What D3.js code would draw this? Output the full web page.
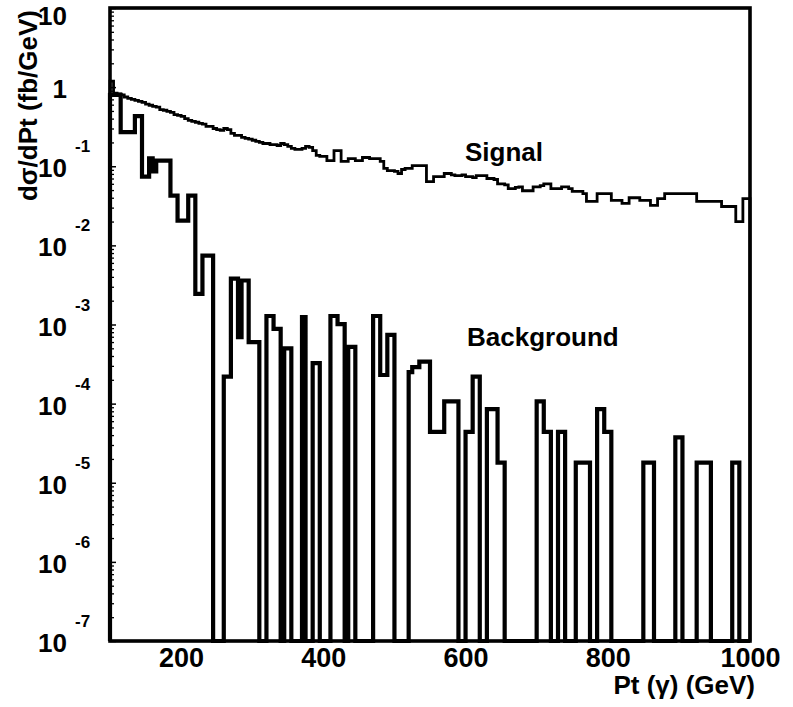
<!DOCTYPE html>
<html>
<head>
<meta charset="utf-8">
<script src="https://cdn.jsdelivr.net/npm/d3@7"></script>
<style>
  html, body { margin: 0; padding: 0; background: #fff; }
  svg { display: block; }
  text { font-family: "Liberation Sans", Arial, Helvetica, sans-serif; font-weight: bold; fill: #000; }
</style>
</head>
<body>
<svg id="chart" width="793" height="707"></svg>
<script>
// Photon transverse momentum spectrum, 5 GeV bins from 100 to 1000 GeV
const ptRange = [100, 1000];
const binWidth = 5;

// dσ/dPt (fb/GeV) per bin, signal
const signal = [
  1.19, 0.84, 0.82, 0.80, 0.75, 0.72, 0.70, 0.68, 0.66, 0.64,
  0.61, 0.59, 0.57, 0.56, 0.52, 0.51, 0.495, 0.48, 0.45, 0.44,
  0.427, 0.40, 0.38, 0.37, 0.36, 0.348, 0.34, 0.319, 0.319, 0.30,
  0.29, 0.284, 0.30, 0.29, 0.26, 0.245, 0.245, 0.232, 0.225, 0.22,
  0.213, 0.206, 0.20, 0.194, 0.194, 0.188, 0.188, 0.183, 0.194, 0.188,
  0.178, 0.168, 0.163, 0.163, 0.168, 0.178, 0.173, 0.158, 0.137, 0.133,
  0.133, 0.118, 0.118, 0.158, 0.158, 0.115, 0.115, 0.125, 0.125, 0.118,
  0.118, 0.129, 0.129, 0.125, 0.125, 0.125, 0.115, 0.094, 0.088, 0.088,
  0.086, 0.081, 0.091, 0.094, 0.094, 0.102, 0.102, 0.102, 0.102, 0.064,
  0.064, 0.074, 0.074, 0.074, 0.081, 0.081, 0.078, 0.076, 0.076, 0.078,
  0.074, 0.074, 0.072, 0.076, 0.076, 0.076, 0.070, 0.070, 0.068, 0.060,
  0.060, 0.058, 0.052, 0.052, 0.054, 0.055, 0.049, 0.049, 0.049, 0.055,
  0.055, 0.057, 0.060, 0.060, 0.052, 0.052, 0.052, 0.055, 0.055, 0.052,
  0.048, 0.048, 0.048, 0.045, 0.036, 0.036, 0.036, 0.045, 0.045, 0.045,
  0.045, 0.037, 0.037, 0.037, 0.034, 0.034, 0.040, 0.040, 0.040, 0.037,
  0.037, 0.037, 0.032, 0.032, 0.039, 0.039, 0.045, 0.045, 0.045, 0.045,
  0.045, 0.045, 0.045, 0.045, 0.045, 0.036, 0.036, 0.036, 0.036, 0.036,
  0.036, 0.036, 0.031, 0.031, 0.031, 0.031, 0.020, 0.020, 0.039, 0.039
];

// dσ/dPt (fb/GeV) per bin, background (0 = empty bin)
const background = [
  0.8, 0.8, 0.8, 0.27, 0.27, 0.27, 0.27, 0.43, 0.43, 0.074,
  0.074, 0.126, 0.086, 0.118, 0.118, 0.118, 0.118, 0.0425, 0.0425, 0.0205,
  0.0205, 0.0205, 0.0425, 0.0425, 0.00244, 0.00244, 0.0074, 0.0074, 0.0074, 0,
  0, 0, 2.2e-4, 2.2e-4, 0.0038, 0.0038, 6.9e-4, 0.0036, 0.0036, 6e-4,
  6e-4, 6e-4, 0, 0, 0.00128, 0.00128, 8.8e-4, 8.8e-4, 0, 5e-4,
  5e-4, 0, 0, 0, 0.00124, 0, 0, 3.25e-4, 3.25e-4, 0,
  0, 0, 0.00128, 0.00128, 0.00101, 0.00101, 0, 5.2e-4, 5.2e-4, 0,
  0, 0, 0, 0, 0.00128, 0.00128, 2.3e-4, 2.3e-4, 7.4e-4, 7.4e-4,
  0, 0, 0, 0, 2.5e-4, 2.9e-4, 2.9e-4, 3.4e-4, 3.4e-4, 3.4e-4,
  4.4e-5, 4.4e-5, 4.4e-5, 4.4e-5, 1.07e-4, 1.07e-4, 1.07e-4, 1.07e-4, 0, 0,
  4.4e-5, 4.4e-5, 2.2e-4, 2.2e-4, 0, 0, 8.5e-5, 8.5e-5, 8.5e-5, 1.8e-5,
  1.8e-5, 0, 0, 0, 0, 0, 0, 0, 0, 0,
  1.07e-4, 1.07e-4, 4.4e-5, 4.4e-5, 0, 0, 4.4e-5, 4.4e-5, 0, 0,
  0, 1.8e-5, 1.8e-5, 1.8e-5, 1.8e-5, 0, 0, 8.5e-5, 8.5e-5, 4.4e-5,
  4.4e-5, 0, 0, 0, 0, 0, 0, 0, 0, 0,
  1.8e-5, 1.8e-5, 1.8e-5, 0, 0, 0, 0, 0, 0, 3.75e-5,
  3.75e-5, 0, 0, 0, 0, 1.8e-5, 1.8e-5, 1.8e-5, 1.8e-5, 0,
  0, 0, 0, 0, 0, 1.8e-5, 1.8e-5, 0, 0, 0
];

const xTicks = [200, 400, 600, 800, 1000];
const yRange = [1e-7, 10];
const yTicks = [1e1, 1e0, 1e-1, 1e-2, 1e-3, 1e-4, 1e-5, 1e-6, 1e-7];
const yTickBase = ["10", "1", "10", "10", "10", "10", "10", "10", "10"];
const yTickExp = ["", "", "-1", "-2", "-3", "-4", "-5", "-6", "-7"];

const plot = { left: 110, right: 750, top: 8, bottom: 641 };

const svg = d3.select("#chart");

const x = d3.scaleLinear().domain(ptRange).range([plot.left, plot.right]);
const y = d3.scaleLog().domain(yRange).range([plot.bottom, plot.top]).clamp(true);

const edges = d3.range(ptRange[0], ptRange[1] + binWidth / 2, binWidth);

// Step outline of a histogram, starting and ending on the baseline
function outline(values) {
  const pts = [[edges[0], yRange[0]]];
  values.forEach((v, i) => {
    const val = v > 0 ? v : yRange[0];
    pts.push([edges[i], val]);
    pts.push([edges[i + 1], val]);
  });
  pts.push([edges[edges.length - 1], yRange[0]]);
  return pts;
}

const line = d3.line().x(d => x(d[0])).y(d => y(d[1]));

svg.append("path")
  .attr("d", line(outline(background)))
  .attr("fill", "none")
  .attr("stroke", "#000")
  .attr("stroke-width", 4.2)
  .attr("stroke-linejoin", "miter");

svg.append("path")
  .attr("d", line(outline(signal)))
  .attr("fill", "none")
  .attr("stroke", "#000")
  .attr("stroke-width", 2.8)
  .attr("stroke-linejoin", "miter");

// Minor log ticks on the inner side of the y axis
const minorTicks = [];
for (let e = -7; e < 1; e++) {
  for (let m = 2; m <= 9; m++) minorTicks.push(m * Math.pow(10, e));
}
const yMinor = svg.append("g")
  .attr("transform", `translate(${plot.left},0)`)
  .call(d3.axisRight(y).tickValues(minorTicks).tickSize(4).tickFormat(""));
yMinor.select(".domain").remove();
yMinor.selectAll("line").attr("stroke", "#000").attr("stroke-width", 1.3);

const yMajor = svg.append("g")
  .attr("transform", `translate(${plot.left},0)`)
  .call(d3.axisRight(y).tickValues(yTicks).tickSize(6).tickFormat(""));
yMajor.select(".domain").remove();
yMajor.selectAll("line").attr("stroke", "#000").attr("stroke-width", 1.5);

// Frame
svg.append("rect")
  .attr("x", plot.left).attr("y", plot.top)
  .attr("width", plot.right - plot.left).attr("height", plot.bottom - plot.top)
  .attr("fill", "none").attr("stroke", "#000").attr("stroke-width", 3.6);

// y tick labels: "10" with a raised exponent
const yLab = svg.append("g");
yTicks.forEach((v, i) => {
  const ty = y(v);
  yLab.append("text")
    .attr("x", 67).attr("y", Math.max(ty + 11, 25))
    .attr("text-anchor", "end")
    .style("font-size", "26px")
    .text(yTickBase[i]);
  if (yTickExp[i]) {
    yLab.append("text")
      .attr("x", 75).attr("y", ty - 14)
      .style("font-size", "17px")
      .text(yTickExp[i]);
  }
});

// x tick labels
const xAxis = svg.append("g")
  .attr("transform", `translate(0,${plot.bottom})`)
  .call(d3.axisBottom(x).tickValues(xTicks).tickSize(0).tickPadding(0).tickFormat(d3.format("d")));
xAxis.select(".domain").remove();
xAxis.selectAll("text")
  .attr("y", 26).attr("dy", null)
  .style("font-size", "27px")
  .style("font-family", "'Liberation Sans', Arial, sans-serif")
  .style("font-weight", "bold")
  .attr("fill", "#000");

// Axis titles
svg.append("text")
  .attr("x", 755).attr("y", 694)
  .attr("text-anchor", "end")
  .style("font-size", "26px")
  .text("Pt (γ) (GeV)");

svg.append("text")
  .attr("transform", "translate(37,10) rotate(-90)")
  .attr("text-anchor", "end")
  .style("font-size", "26px")
  .text("dσ/dPt (fb/GeV)");

// Curve labels
svg.append("text")
  .attr("x", 465).attr("y", 161)
  .style("font-size", "26px")
  .text("Signal");

svg.append("text")
  .attr("x", 467).attr("y", 346)
  .style("font-size", "26px")
  .text("Background");
</script>
</body>
</html>
